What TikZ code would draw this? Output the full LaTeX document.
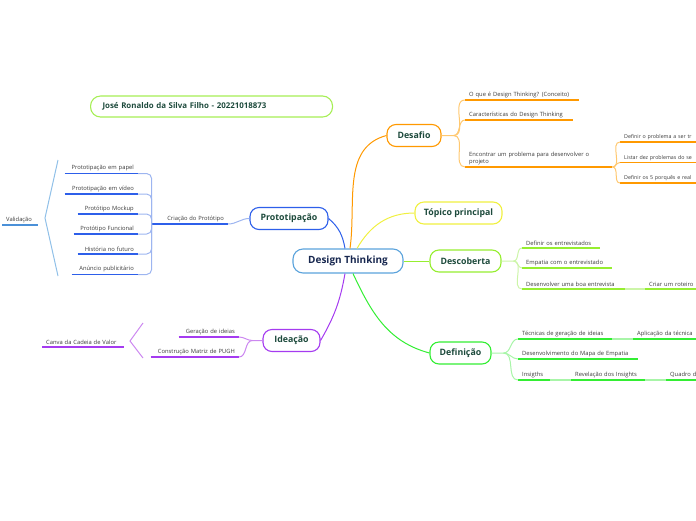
\documentclass[tikz,border=0pt]{standalone}
\usepackage{fontspec}
\setmainfont{Open Sans}
\usetikzlibrary{positioning}
\definecolor{txtgray}{HTML}{3A3A3A}
\definecolor{dkgreen}{HTML}{1D4A3C}
\definecolor{navy}{HTML}{182850}
\definecolor{ctrblue}{HTML}{5BA3DC}
\definecolor{orng}{HTML}{FF9900}
\definecolor{paleorng}{HTML}{FFC870}
\definecolor{yel}{HTML}{F0F040}
\definecolor{lime}{HTML}{96EE30}
\definecolor{palelime}{HTML}{CCF5A8}
\definecolor{grn}{HTML}{33EE33}
\definecolor{palegrn}{HTML}{A8F5A8}
\definecolor{blu}{HTML}{2D5FEA}
\definecolor{paleblu}{HTML}{9DB5F0}
\definecolor{valblue}{HTML}{4A90D8}
\definecolor{palevalblue}{HTML}{90C0E8}
\definecolor{purp}{HTML}{A53BF0}
\definecolor{palepurp}{HTML}{CC88F0}
\definecolor{namegrn}{HTML}{A6EE55}
\tikzset{
		topic/.style={draw=#1, fill=white, rounded corners=9pt, line width=1.1pt, text=dkgreen, font=\fontsize{8.8}{10}\selectfont\bfseries, minimum height=22pt, inner sep=2pt},
		leaf/.style 2 args={anchor=south west, text width=#2, align=left, inner xsep=4pt, inner ysep=2pt, text=txtgray, font=\fontsize{5.8}{7.4}\selectfont, append after command={(\tikzlastnode.south west) edge[draw=#1, line width=1.6pt] (\tikzlastnode.south east)}},
		lleaf/.style 2 args={leaf={#1}{#2}, anchor=south east, align=right},
		edgeleaf/.style={font=\fontsize{5.3}{7}\selectfont},
		link/.style={draw=#1, line width=1pt},
		namebox/.style={draw=namegrn, rounded corners=10pt, line width=1.1pt, text=dkgreen, font=\fontsize{7.9}{9}\selectfont\bfseries, inner xsep=12pt}
	}
\begin{document}
\begin{tikzpicture}[x=1pt, y=-1pt]
	\useasboundingbox (0,0) rectangle (696,520);

	% topicos principais
	\node[topic=ctrblue, text=navy, font=\fontsize{10}{11}\selectfont\bfseries, minimum width=110pt, minimum height=24pt, rounded corners=10pt] (dt) at (348,261) {Design Thinking};
	\node[topic=orng, minimum width=54pt]  (desafio)      at (414,135.5) {Desafio};
	\node[topic=yel, minimum width=87pt]   (topico)       at (458.5,213) {Tópico principal};
	\node[topic=lime, minimum width=71pt]  (descoberta)   at (465.5,261) {Descoberta};
	\node[topic=grn, minimum width=61pt]   (definicao)    at (460.5,353) {Definição};
	\node[topic=blu, minimum width=78pt]   (prototipacao) at (289,218.5) {Prototipação};
	\node[topic=purp, minimum width=57pt]  (ideacao)      at (291.5,340.5) {Ideação};

	\node[namebox, anchor=west, minimum width=242pt, minimum height=21pt, text width=218pt] (autor) at (90,106.5) {José Ronaldo da Silva Filho -  20221018873};

	\draw[link=orng]    ([xshift=2pt]dt.north)  to[out=82,in=195]  (desafio.west);
	\draw[link=blu]     ([xshift=-3pt]dt.north) to[out=100,in=-40] (prototipacao.east);
	\draw[link=yel]     ([xshift=9pt]dt.north)  to[out=60,in=180]  (topico.west);
	\draw[link=lime]    (dt.east) -- (descoberta.west);
	\draw[link=grn]     ([xshift=5pt]dt.south)  to[out=-65,in=165] (definicao.west);
	\draw[link=purp]    ([xshift=-3pt]dt.south) to[out=-100,in=60] (ideacao.east);

	% desafio
	\node[leaf={orng}{106pt}] (conceito)  at (465,100) {O que é  Design Thinking? (Conceito)};
	\node[leaf={orng}{100pt}] (caract)    at (465,120) {Características do Design Thinking};
	\node[leaf={orng}{139pt}] (encontrar) at (465,167) {Encontrar um problema para desenvolver o\\projeto};
	\node[leaf={orng}{80pt}, edgeleaf] (problema) at (620,142)   {Definir o problema a ser tr};
	\node[leaf={orng}{80pt}, edgeleaf] (listar)   at (620,162.5) {Listar dez problemas do se};
	\node[leaf={orng}{80pt}, edgeleaf] (porques)  at (620,183)   {Definir os 5 porquês e real};

	\coordinate (dsf) at ([xshift=12pt]desafio.east);
	\draw[link=paleorng] (desafio.east) -- (dsf) to[out=0,in=180] (conceito.south west);
	\draw[link=paleorng] (dsf) to[out=0,in=180] (caract.south west);
	\draw[link=paleorng] (dsf) to[out=0,in=180] (encontrar.south west);
	\draw[link=paleorng] (encontrar.south east) to[out=0,in=180] (problema.south west);
	\draw[link=paleorng] (encontrar.south east) to[out=0,in=180] (listar.south west);
	\draw[link=paleorng] (encontrar.south east) to[out=0,in=180] (porques.south west);

	% descoberta
	\node[leaf={lime}{70pt}] (entrevistados) at (522,248) {Definir os entrevistados};
	\node[leaf={lime}{82pt}] (empatia)       at (522,268) {Empatia com o entrevistado};
	\node[leaf={lime}{95pt}] (entrevista)    at (522,289) {Desenvolver uma boa entrevista};
	\node[leaf={lime}{60pt}] (roteiro)       at (645,289) {Criar um roteiro};

	\coordinate (dsc) at ([xshift=12pt]descoberta.east);
	\draw[link=palelime] (descoberta.east) -- (dsc) to[out=0,in=180] (entrevistados.south west);
	\draw[link=palelime] (dsc) to[out=0,in=180] (empatia.south west);
	\draw[link=palelime] (dsc) to[out=0,in=180] (entrevista.south west);
	\draw[draw=palelime, line width=1.6pt] (entrevista.south east) -- (roteiro.south west);

	% definicao
	\node[leaf={grn}{86pt}]  (tecnicas)  at (518,339) {Técnicas de geração de ideias};
	\node[leaf={grn}{60pt}]  (aplicacao) at (633,339) {Aplicação da técnica};
	\node[leaf={grn}{112pt}] (mapa)      at (518,359) {Desenvolvimento do Mapa de Empatia};
	\node[leaf={grn}{24pt}]  (insigths)  at (518,380) {Insigths};
	\node[leaf={grn}{66pt}]  (revelacao) at (571,380) {Revelação dos Insights};
	\node[leaf={grn}{40pt}]  (quadro)    at (666,380) {Quadro d};

	\coordinate (dfn) at ([xshift=12pt]definicao.east);
	\draw[link=palegrn] (definicao.east) -- (dfn) to[out=0,in=180] (tecnicas.south west);
	\draw[link=palegrn] (dfn) to[out=0,in=180] (mapa.south west);
	\draw[link=palegrn] (dfn) to[out=0,in=180] (insigths.south west);
	\draw[draw=palegrn, line width=1.6pt] (tecnicas.south east) -- (aplicacao.south west);
	\draw[draw=palegrn, line width=1.6pt] (insigths.south east) -- (revelacao.south west);
	\draw[draw=palegrn, line width=1.6pt] (revelacao.south east) -- (quadro.south west);

	% prototipacao
	\node[lleaf={blu}{68pt}] (criacao)   at (228,224)   {Criação do Protótipo};
	\node[lleaf={blu}{65pt}] (papel)     at (138,173.5) {Prototipação em papel};
	\node[lleaf={blu}{65pt}] (video)     at (138,194)   {Prototipação em vídeo};
	\node[lleaf={blu}{52pt}] (mockup)    at (138,214)   {Protótipo Mockup};
	\node[lleaf={blu}{56pt}] (funcional) at (138,234)   {Protótipo Funcional};
	\node[lleaf={blu}{52pt}] (historia)  at (138,254)   {História no futuro};
	\node[lleaf={blu}{58pt}] (anuncio)   at (138,274.5) {Anúncio publicitário};
	\node[leaf={valblue}{28pt}] (validacao) at (2,225) {Validação};

	\draw[link=paleblu] (prototipacao.west) to[out=180,in=0] (criacao.south east);
	\draw[link=paleblu, rounded corners=5pt] (criacao.south west) |- (papel.south east);
	\draw[link=paleblu, rounded corners=5pt] (criacao.south west) |- (video.south east);
	\draw[link=paleblu, rounded corners=5pt] (criacao.south west) |- (mockup.south east);
	\draw[link=paleblu, rounded corners=5pt] (criacao.south west) |- (funcional.south east);
	\draw[link=paleblu, rounded corners=5pt] (criacao.south west) |- (historia.south east);
	\draw[link=paleblu, rounded corners=5pt] (criacao.south west) |- (anuncio.south east);

	\coordinate (vtop) at (58,160);
	\coordinate (vtip) at (45,218);
	\coordinate (vbot) at (58,276);
	\draw[link=palevalblue] (vtop) -- (vtip) -- (vbot);

	% ideacao
	\node[lleaf={purp}{52pt}] (geracao) at (239,337) {Geração de ideias};
	\node[lleaf={purp}{80pt}] (pugh)    at (239,357) {Construção Matriz de PUGH};
	\node[leaf={purp}{74pt}]  (canva)   at (42,347)  {Canva da Cadeia de Valor};

	\coordinate (idc) at ([xshift=-10pt]ideacao.west);
	\draw[link=palepurp] (ideacao.west) -- (idc) to[out=180,in=0] (geracao.south east);
	\draw[link=palepurp] (idc) to[out=180,in=0] (pugh.south east);

	\coordinate (itop) at (143,323);
	\coordinate (itip) at (130,341);
	\coordinate (ibot) at (143,358);
	\draw[link=palepurp] (itop) -- (itip) -- (ibot);
\end{tikzpicture}
\end{document}
